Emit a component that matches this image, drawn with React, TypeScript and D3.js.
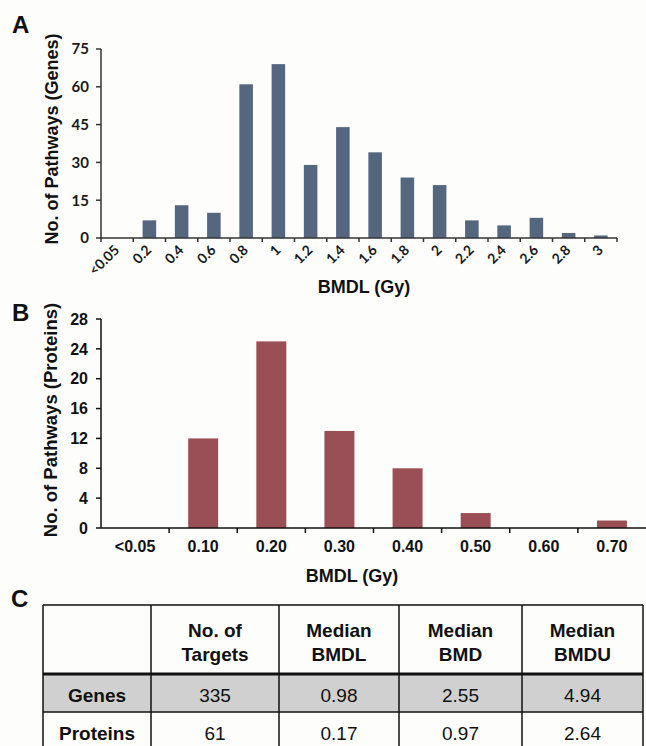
import React from "react";
import * as d3 from "d3";

const genesCategories = ["<0.05", "0.2", "0.4", "0.6", "0.8", "1", "1.2", "1.4", "1.6", "1.8", "2", "2.2", "2.4", "2.6", "2.8", "3"];
const genesCounts = [0, 7, 13, 10, 61, 69, 29, 44, 34, 24, 21, 7, 5, 8, 2, 1];
const genesTicks = [0, 15, 30, 45, 60, 75];

const proteinCategories = ["<0.05", "0.10", "0.20", "0.30", "0.40", "0.50", "0.60", "0.70"];
const proteinCounts = [0, 12, 25, 13, 8, 2, 0, 1];
const proteinTicks = [0, 4, 8, 12, 16, 20, 24, 28];

const tableHeaders = [["", ""], ["No. of", "Targets"], ["Median", "BMDL"], ["Median", "BMD"], ["Median", "BMDU"]];
const tableRowLabels = ["Genes", "Proteins"];
const tableTargets = ["335", "61"];
const tableBMDL = ["0.98", "0.17"];
const tableBMD = ["2.55", "0.97"];
const tableBMDU = ["4.94", "2.64"];

const ARIAL = "'Liberation Sans', Arial, sans-serif";
const CALIBRI = "Lato, 'Open Sans', sans-serif";

export default function App() {
  // Panel A
  const xA = d3.scaleBand<string>().domain(genesCategories).range([101, 617]).paddingInner(0.58).paddingOuter(0.29);
  const yA = d3.scaleLinear().domain([0, 75]).range([238, 49]);
  const stepA = (617 - 101) / genesCategories.length;
  // Panel B
  const xB = d3.scaleBand<string>().domain(proteinCategories).range([101, 646]).paddingInner(0.56).paddingOuter(0.28);
  const yB = d3.scaleLinear().domain([0, 28]).range([528, 319]);
  const stepB = (646 - 101) / proteinCategories.length;

  // Table
  const colX = [43, 151, 279, 399, 522, 643];
  const rowY = [605, 674, 712, 760];
  const tableCols = [tableRowLabels, tableTargets, tableBMDL, tableBMD, tableBMDU];

  return (
    <svg width={646} height={746} style={{ position: "absolute", left: 0, top: 0, background: "#fdfdfb" }}>
      <rect x={0} y={0} width={646} height={746} fill="#fdfdfb" />
      {/* Panel letters */}
      <text x={12} y={33} fontFamily={ARIAL} fontWeight="bold" fontSize={24} fill="#111">A</text>
      <text x={12} y={321} fontFamily={ARIAL} fontWeight="bold" fontSize={24} fill="#111">B</text>
      <text x={11} y={607} fontFamily={ARIAL} fontWeight="bold" fontSize={24} fill="#111">C</text>

      {/* Panel A */}
      <g>
        {genesCategories.map((c, i) => (
          <rect key={c} x={xA(c)} y={yA(genesCounts[i])} width={xA.bandwidth()} height={yA(0) - yA(genesCounts[i])} fill="#54677f" />
        ))}
        <line x1={101} x2={101} y1={yA(0)} y2={yA(75)} stroke="#333" strokeWidth={1.5} />
        <line x1={101} x2={617} y1={yA(0)} y2={yA(0)} stroke="#333" strokeWidth={1.5} />
        {genesTicks.map((t) => (
          <g key={t}>
            <line x1={96} x2={101} y1={yA(t)} y2={yA(t)} stroke="#333" strokeWidth={1.5} />
            <text x={89} y={yA(t)} dy="0.36em" textAnchor="end" fontFamily={CALIBRI} fontWeight="bold" fontSize={15} fill="#1a1a1a">{t}</text>
          </g>
        ))}
        {d3.range(genesCategories.length + 1).map((i) => (
          <line key={i} x1={101 + i * stepA} x2={101 + i * stepA} y1={yA(0)} y2={yA(0) + 4} stroke="#333" strokeWidth={1.5} />
        ))}
        {genesCategories.map((c) => {
          const cx = (xA(c) as number) + xA.bandwidth() / 2 + 3;
          return (
            <text key={c} transform={`translate(${cx},${251}) rotate(-45)`} textAnchor="end" fontFamily={CALIBRI} fontWeight="bold" fontSize={14} fill="#1a1a1a">{c}</text>
          );
        })}
        <text x={364} y={293} textAnchor="middle" fontFamily={ARIAL} fontWeight="bold" fontSize={18} fill="#111">BMDL (Gy)</text>
        <text transform={`translate(58,139) rotate(-90)`} textAnchor="middle" fontFamily={ARIAL} fontWeight="bold" fontSize={18} fill="#111">No. of Pathways (Genes)</text>
      </g>

      {/* Panel B */}
      <g>
        {proteinCategories.map((c, i) => (
          <rect key={c} x={xB(c)} y={yB(proteinCounts[i])} width={xB.bandwidth()} height={yB(0) - yB(proteinCounts[i])} fill="#9a4e55" />
        ))}
        <line x1={101} x2={101} y1={yB(0)} y2={yB(28)} stroke="#111" strokeWidth={1.5} />
        <line x1={101} x2={646} y1={yB(0)} y2={yB(0)} stroke="#111" strokeWidth={1.5} />
        {proteinTicks.map((t) => (
          <g key={t}>
            <line x1={96} x2={101} y1={yB(t)} y2={yB(t)} stroke="#111" strokeWidth={1.5} />
            <text x={88} y={yB(t)} dy="0.36em" textAnchor="end" fontFamily={ARIAL} fontWeight="bold" fontSize={16} fill="#111">{t}</text>
          </g>
        ))}
        {d3.range(1, proteinCategories.length).map((i) => (
          <line key={i} x1={101 + i * stepB} x2={101 + i * stepB} y1={yB(0)} y2={yB(0) + 5} stroke="#111" strokeWidth={1.5} />
        ))}
        {proteinCategories.map((c) => (
          <text key={c} x={(xB(c) as number) + xB.bandwidth() / 2} y={552} textAnchor="middle" fontFamily={ARIAL} fontWeight="bold" fontSize={16} fill="#111">{c}</text>
        ))}
        <text x={352} y={582} textAnchor="middle" fontFamily={ARIAL} fontWeight="bold" fontSize={18} fill="#111">BMDL (Gy)</text>
        <text transform={`translate(57,420) rotate(-90)`} textAnchor="middle" fontFamily={ARIAL} fontWeight="bold" fontSize={18.5} fill="#111">No. of Pathways (Proteins)</text>
      </g>

      {/* Panel C table */}
      <g>
        <rect x={colX[0]} y={rowY[1]} width={colX[5] - colX[0]} height={rowY[2] - rowY[1]} fill="#d0d0d0" />
        {rowY.map((y, i) => (
          <line key={"r" + i} x1={colX[0]} x2={colX[5]} y1={y} y2={y} stroke="#111" strokeWidth={i === 1 ? 3 : 1.5} />
        ))}
        {colX.map((x, i) => (
          <line key={"c" + i} x1={x} x2={x} y1={rowY[0]} y2={rowY[3]} stroke="#111" strokeWidth={1.5} />
        ))}
        {tableHeaders.map((h, i) => {
          const cx = (colX[i] + colX[i + 1]) / 2;
          return (
            <g key={"h" + i}>
              <text x={cx} y={637} textAnchor="middle" fontFamily={ARIAL} fontWeight="bold" fontSize={19} fill="#111">{h[0]}</text>
              <text x={cx} y={661} textAnchor="middle" fontFamily={ARIAL} fontWeight="bold" fontSize={19} fill="#111">{h[1]}</text>
            </g>
          );
        })}
        {tableCols.map((col, i) =>
          col.map((v, j) => (
            <text key={`${i}-${j}`} x={(colX[i] + colX[i + 1]) / 2} y={j === 0 ? 702 : 740} textAnchor="middle" fontFamily={ARIAL} fontWeight={i === 0 ? "bold" : "normal"} fontSize={19} fill="#111">{v}</text>
          ))
        )}
      </g>
    </svg>
  );
}
